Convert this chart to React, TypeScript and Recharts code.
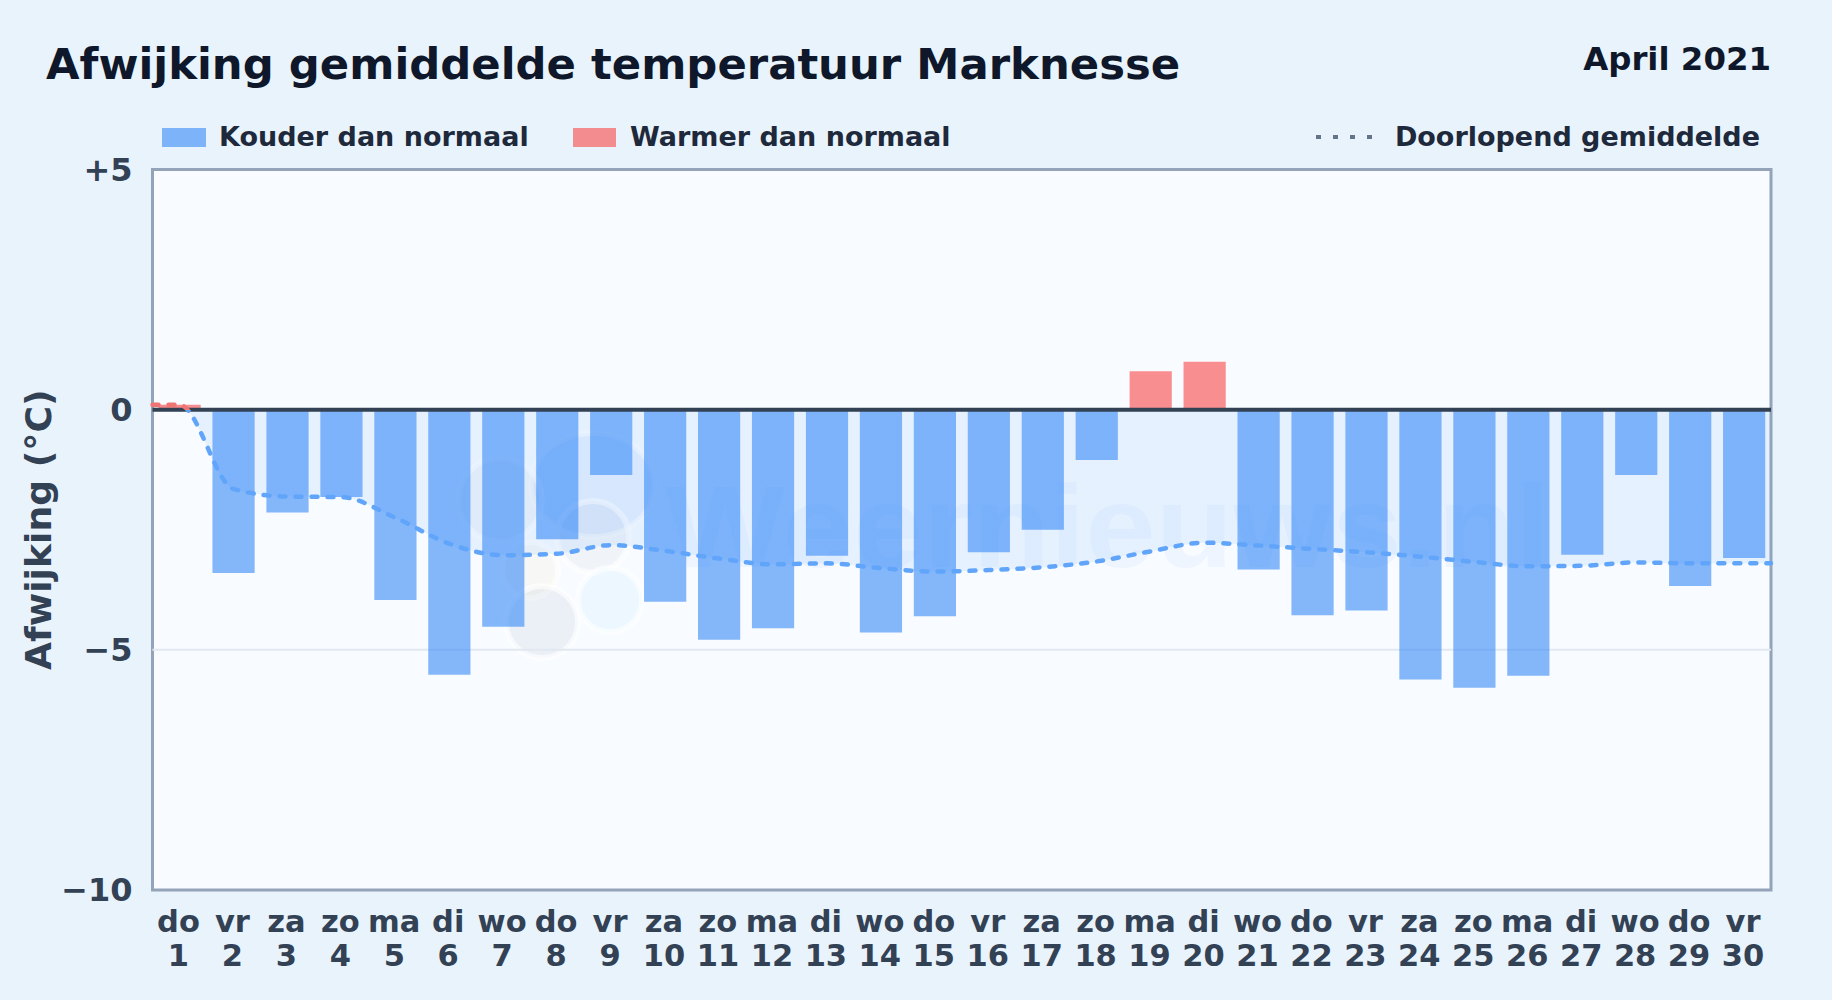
import { ComposedChart, Area, Bar, Line, Cell, XAxis, YAxis, CartesianGrid, ReferenceLine, Legend } from 'recharts';

const dayNames = ['do', 'vr', 'za', 'zo', 'ma', 'di', 'wo', 'do', 'vr', 'za', 'zo', 'ma', 'di', 'wo', 'do', 'vr', 'za', 'zo', 'ma', 'di', 'wo', 'do', 'vr', 'za', 'zo', 'ma', 'di', 'wo', 'do', 'vr'];
const dayNumbers = [1, 2, 3, 4, 5, 6, 7, 8, 9, 10, 11, 12, 13, 14, 15, 16, 17, 18, 19, 20, 21, 22, 23, 24, 25, 26, 27, 28, 29, 30];
const deviations = [0.1, -3.4, -2.14, -1.82, -3.96, -5.52, -4.52, -2.7, -1.36, -4.0, -4.79, -4.55, -3.04, -4.64, -4.3, -2.97, -2.5, -1.05, 0.8, 1.0, -3.33, -4.28, -4.18, -5.62, -5.79, -5.54, -3.02, -1.36, -3.67, -3.09];
const runningMean = [0.1, -1.65, -1.81, -1.82, -2.25, -2.79, -3.03, -3.0, -2.82, -2.94, -3.1, -3.22, -3.2, -3.3, -3.37, -3.34, -3.28, -3.16, -2.95, -2.77, -2.83, -2.9, -2.97, -3.06, -3.17, -3.26, -3.25, -3.18, -3.2, -3.2];
const yTicks = [5, 0, -5, -10];
const gridValues = [-5];

const COLD = '#3b8cf7';
const WARM = '#f85f5f';
const LINE_BLUE = '#60a5fa';
const LINE_RED = '#ef7474';
const TEXT = '#334155';

const barData = dayNumbers.map((day, i) => ({ day, dev: deviations[i] }));

// the running mean runs on to the plot edges, half a day past the first and last bar
// it gets its own hidden x axis so those half days do not narrow the bars
const meanData = [
  { day: 0.5, mean: runningMean[0] },
  ...dayNumbers.map((day, i) => ({ day, mean: runningMean[i] })),
  { day: 30.5, mean: runningMean[runningMean.length - 1] },
];

const meanMax = Math.max(...runningMean);
const meanMin = Math.min(...runningMean);
const zeroStop = `${((meanMax / (meanMax - meanMin)) * 100).toFixed(2)}%`;

const DayTick = ({ x, y, payload }: any) => (
  <text x={x - 1} y={y} textAnchor="middle" fill={TEXT} fontSize={30.5} fontWeight={700}>
    <tspan x={x - 1} dy={34}>{dayNames[payload.value - 1]}</tspan>
    <tspan x={x - 1} dy={33.5}>{payload.value}</tspan>
  </text>
);

const formatY = (v: number) => (v > 0 ? `+${v}` : v < 0 ? `\u2212${Math.abs(v)}` : '0');

const LegendRow = () => (
  <div style={{ position: 'relative', width: 1832, height: 40, fontSize: 27, fontWeight: 700, color: '#1e293b' }}>
    <span style={{ position: 'absolute', left: 162, top: 10, width: 44, height: 19, background: COLD, opacity: 0.62 }} />
    <span style={{ position: 'absolute', left: 219, top: 3 }}>Kouder dan normaal</span>
    <span style={{ position: 'absolute', left: 573, top: 10, width: 43, height: 19, background: WARM, opacity: 0.7 }} />
    <span style={{ position: 'absolute', left: 630, top: 3 }}>Warmer dan normaal</span>
    <svg style={{ position: 'absolute', left: 1316, top: 15 }} width={56} height={8}>
      <line x1={0} x2={56} y1={4} y2={4} stroke="#64748b" strokeWidth={4} strokeDasharray="5 12" />
    </svg>
    <span style={{ position: 'absolute', right: 72, top: 3 }}>Doorlopend gemiddelde</span>
  </div>
);

export default function App() {
  return (
    <div style={{ position: 'absolute', left: 0, top: 0, width: 1832, height: 1000, background: '#e8f3fc', fontFamily: '"DejaVu Sans", sans-serif', overflow: 'hidden' }}>
      <style>{'body{margin:0}'}</style>
      <div style={{ position: 'absolute', left: 46, top: 39, fontSize: 43.35, fontWeight: 700, color: '#0f172a', whiteSpace: 'nowrap' }}>
        Afwijking gemiddelde temperatuur Marknesse
      </div>
      <div style={{ position: 'absolute', right: 61, top: 40, fontSize: 32.4, fontWeight: 700, color: '#0f172a' }}>April 2021</div>

      {/* plot background and watermark */}
      <svg style={{ position: 'absolute', left: 0, top: 0 }} width={1832} height={1000}>
        <rect x={152.5} y={169.5} width={1618.5} height={720.5} fill="#f8fbff" stroke="#94a3b8" strokeWidth={3} />
        <g fill="#3b82f6" stroke="#ffffff" strokeOpacity={0.6} strokeWidth={6}>
          <ellipse cx={593} cy={485} rx={62} ry={52} fillOpacity={0.09} />
          <circle cx={500} cy={500} r={42} fill="#64748b" fillOpacity={0.05} />
          <circle cx={530} cy={570} r={28} fill="#eab308" fillOpacity={0.04} />
          <circle cx={593} cy={537} r={36} fill="#64748b" fillOpacity={0.05} />
          <circle cx={542} cy={622} r={36} fill="#475f8a" fillOpacity={0.07} />
          <circle cx={610} cy={600} r={32} fill="#38bdf8" fillOpacity={0.06} />
        </g>
        <text x={665} y={567} fontFamily='"Liberation Sans", sans-serif' fontWeight={700} fontSize={116} textLength={885} lengthAdjust="spacingAndGlyphs" fill="#3b82f6" fillOpacity={0.05}>
          Weernieuws.nl
        </text>
      </svg>

      <div style={{ position: 'absolute', left: 0, top: 0 }}>
        <ComposedChart
          width={1832}
          height={1000}
          data={barData}
          margin={{ top: 129.5, right: 61, bottom: 0, left: 22.5 }}
        >
          <defs>
            <linearGradient id="meanStroke" x1="0" y1="0" x2="0" y2="1">
              <stop offset={zeroStop} stopColor={LINE_RED} />
              <stop offset={zeroStop} stopColor={LINE_BLUE} />
            </linearGradient>
            <linearGradient id="meanFill" x1="0" y1="0" x2="0" y2="1">
              <stop offset={zeroStop} stopColor={LINE_RED} stopOpacity={0.25} />
              <stop offset={zeroStop} stopColor={LINE_BLUE} stopOpacity={0.2} />
            </linearGradient>
          </defs>
          <CartesianGrid vertical={false} horizontalValues={gridValues} stroke="#e2e8f0" strokeWidth={2} />
          <XAxis
            dataKey="day"
            type="number"
            domain={[0.5, 30.5]}
            ticks={dayNumbers}
            interval={0}
            axisLine={false}
            tickLine={false}
            tick={<DayTick />}
            height={110}
          />
          <XAxis xAxisId="mean" dataKey="day" type="number" domain={[0.5, 30.5]} hide />
          <YAxis
            type="number"
            domain={[-10, 5]}
            ticks={yTicks}
            tickFormatter={formatY}
            axisLine={false}
            tickLine={false}
            width={130}
            tickMargin={14}
            tick={{ fill: TEXT, fontSize: 32, fontWeight: 700 }}
            label={{ value: 'Afwijking (°C)', angle: -90, position: 'insideLeft', offset: 16, style: { fill: TEXT, fontSize: 36.2, fontWeight: 700, textAnchor: 'middle' } }}
          />
          <Legend verticalAlign="top" height={40} content={<LegendRow />} wrapperStyle={{ position: 'absolute', left: 0, top: 118, width: 1832 }} />
          <Area xAxisId="mean" data={meanData} dataKey="mean" type="monotone" stroke="none" fill="url(#meanFill)" isAnimationActive={false} />
          <Bar dataKey="dev" barSize={42.2} isAnimationActive={false}>
            {barData.map((d) => (
              <Cell key={d.day} fill={d.dev > 0 ? WARM : COLD} fillOpacity={d.dev > 0 ? 0.7 : 0.62} />
            ))}
          </Bar>
          <ReferenceLine y={0} stroke="#334155" strokeWidth={4} />
          <Line xAxisId="mean" data={meanData} dataKey="mean" type="monotone" stroke="url(#meanStroke)" strokeWidth={4.5} strokeDasharray="6 10" strokeLinecap="round" dot={false} activeDot={false} isAnimationActive={false} />
        </ComposedChart>
      </div>
    </div>
  );
}
